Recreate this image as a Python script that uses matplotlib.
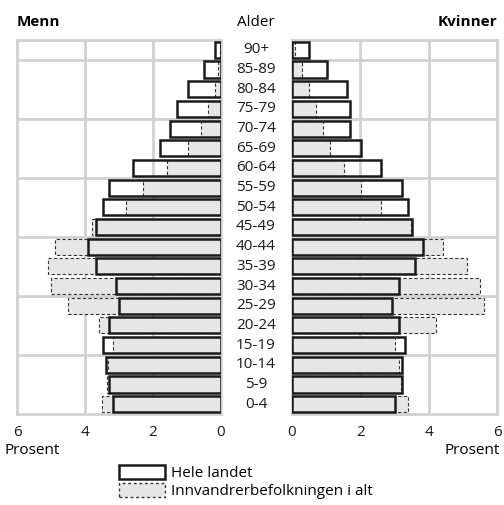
import matplotlib.pyplot as plt
from matplotlib.patches import Patch

# {{{ data (percent of each population)
age_groups = ["0-4", "5-9", "10-14", "15-19", "20-24", "25-29", "30-34",
              "35-39", "40-44", "45-49", "50-54", "55-59", "60-64", "65-69",
              "70-74", "75-79", "80-84", "85-89", "90+"]
men_total = [3.19, 3.29, 3.39, 3.48, 3.28, 2.99, 3.09, 3.69, 3.90, 3.69,
             3.48, 3.28, 2.58, 1.79, 1.49, 1.28, 0.98, 0.49, 0.18]
men_immigrant = [3.49, 3.35, 3.33, 3.18, 3.59, 4.49, 4.99, 5.08, 4.89, 3.78,
                 2.79, 2.28, 1.58, 0.98, 0.58, 0.37, 0.18, 0.08, 0.04]
women_total = [3.02, 3.22, 3.22, 3.32, 3.12, 2.92, 3.12, 3.61, 3.82, 3.51,
               3.40, 3.22, 2.61, 2.01, 1.70, 1.70, 1.61, 1.01, 0.51]
women_immigrant = [3.40, 3.20, 3.12, 3.01, 4.22, 5.61, 5.51, 5.12, 4.42, 3.48,
                   2.61, 2.01, 1.51, 1.11, 0.90, 0.70, 0.50, 0.30, 0.09]
# }}}

plt.rcParams["font.family"] = ["Open Sans", "DejaVu Sans"]
GRID = "#d2d2d2"
FILL = "#e6e6e6"
BAR_H = 0.82

fig = plt.figure(figsize=(5.04, 5.05), dpi=100)
ax_m = fig.add_axes([17 / 504, 1 - 414 / 505, 204 / 504, 374 / 505])
ax_w = fig.add_axes([292 / 504, 1 - 414 / 505, 205 / 504, 374 / 505])

ypos = range(len(age_groups))
for ax, total, immig in ((ax_m, men_total, men_immigrant),
                         (ax_w, women_total, women_immigrant)):
    ax.barh(ypos, immig, height=BAR_H, color=FILL, edgecolor="#333333",
            linestyle=(0, (3, 2)), linewidth=0.8, zorder=3)
    ax.barh(ypos, total, height=BAR_H, fill=False, edgecolor="#1a1a1a",
            linewidth=1.8, zorder=4)
    ax.set_xlim(0, 6)
    ax.set_ylim(-0.5, len(age_groups) - 0.5)
    ax.set_xticks([0, 2, 4, 6])
    ax.set_yticks([])
    for x in (2, 4):
        ax.axvline(x, color=GRID, lw=2, zorder=1)
    for y in (2.5, 5.5, 8.5, 11.5, 14.5, 17.5):
        ax.axhline(y, color=GRID, lw=2, zorder=1)
    for s in ax.spines.values():
        s.set_color(GRID)
        s.set_linewidth(2)
    ax.tick_params(length=0, labelsize=11, pad=8, colors="#1a1a1a")

ax_m.invert_xaxis()

# age labels in the centre column
for i, lab in enumerate(age_groups):
    y = ax_m.transData.transform((0, i))[1]
    fig.text(256 / 504, y / fig.bbox.height, lab, ha="center", va="center",
             fontsize=11, color="#1a1a1a")

fig.text(17 / 504, 1 - 22 / 505, "Menn", fontsize=11, fontweight="bold",
         ha="left", va="center")
fig.text(256 / 504, 1 - 22 / 505, "Alder", fontsize=11, ha="center",
         va="center")
fig.text(497 / 504, 1 - 22 / 505, "Kvinner", fontsize=11, fontweight="bold",
         ha="right", va="center")
fig.text(5 / 504, 1 - 451 / 505, "Prosent", fontsize=11, ha="left",
         va="center")
fig.text(500 / 504, 1 - 451 / 505, "Prosent", fontsize=11, ha="right",
         va="center")

handles = [
    Patch(facecolor="white", edgecolor="#1a1a1a", linewidth=1.8),
    Patch(facecolor=FILL, edgecolor="#333333", linewidth=1.0,
          linestyle=(0, (2, 2))),
]
fig.legend(handles, ["Hele landet", "Innvandrerbefolkningen i alt"],
           loc="upper left", bbox_to_anchor=(116 / 504, 1 - 462 / 505),
           frameon=False, fontsize=11, handlelength=3.0, handleheight=1.0,
           handletextpad=0.4, labelspacing=0.15, borderaxespad=0,
           borderpad=0.2)

fig.savefig("out.png", dpi=100)
